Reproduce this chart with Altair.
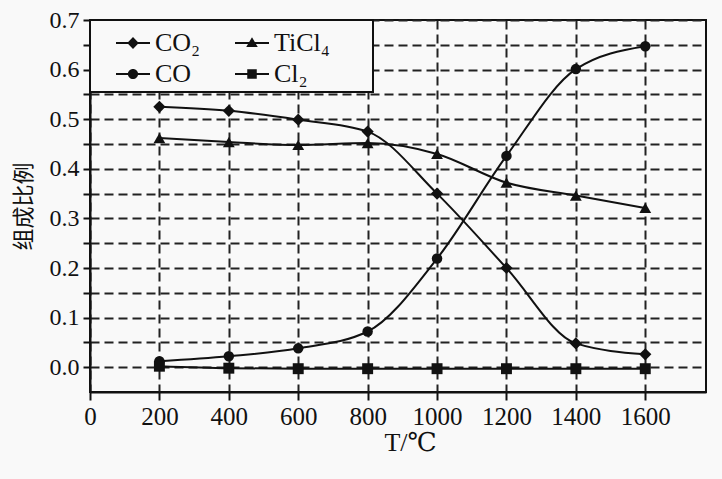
import altair as alt
import pandas as pd

# ---- data ----
temps = [200, 400, 600, 800, 1000, 1200, 1400, 1600]
co2 = [0.525, 0.517, 0.499, 0.475, 0.350, 0.200, 0.048, 0.026]
co = [0.012, 0.022, 0.038, 0.072, 0.219, 0.426, 0.601, 0.647]
ticl4 = [0.462, 0.454, 0.448, 0.452, 0.430, 0.372, 0.346, 0.321]
cl2 = [0.002, -0.002, -0.003, -0.003, -0.003, -0.003, -0.003, -0.003]

# legend fills column by column: CO₂, CO | TiCl₄, Cl₂
series_names = ["CO₂", "CO", "TiCl₄", "Cl₂"]
x_ticks = [0, 200, 400, 600, 800, 1000, 1200, 1400, 1600]
y_ticks = [0.0, 0.05, 0.1, 0.15, 0.2, 0.25, 0.3, 0.35, 0.4, 0.45, 0.5, 0.55, 0.6, 0.65, 0.7]

series_values = {"CO₂": co2, "CO": co, "TiCl₄": ticl4, "Cl₂": cl2}
rows = []
for name in series_names:
    for t, v in zip(temps, series_values[name]):
        rows.append({"T": t, "value": v, "series": name})
df = pd.DataFrame(rows)

# ---- styling ----
SERIF = "Liberation Serif, DejaVu Serif, serif"
CJK = "Noto Sans CJK SC"
INK = "#111111"
BG = "#f9f9f9"

marker_shapes = {"CO₂": "diamond", "CO": "circle", "TiCl₄": "triangle-up", "Cl₂": "square"}
marker_sizes = {"CO₂": 150, "CO": 110, "TiCl₄": 140, "Cl₂": 120}
BAR = "M-1,-0.06L1,-0.06L1,0.06L-1,0.06Z"
legend_shapes = [
    BAR + "M0,-0.36L0.34,0L0,0.36L-0.34,0Z",
    BAR + "M0.3,0A0.3,0.3,0,1,1,-0.3,0A0.3,0.3,0,1,1,0.3,0Z",
    BAR + "M0,-0.34L0.34,0.24L-0.34,0.24Z",
    BAR + "M-0.28,-0.28L0.28,-0.28L0.28,0.28L-0.28,0.28Z",
]

x_enc = alt.X(
    "T:Q",
    scale=alt.Scale(domain=[0, 1775], nice=False, zero=False),
    axis=alt.Axis(
        values=x_ticks, format="d", title="T/℃",
        labelFont=SERIF, labelFontSize=25, labelColor=INK, labelPadding=4,
        labelFlush=False,
        tickSize=8, tickWidth=2, tickColor=INK,
        domainColor=INK, domainWidth=2,
        grid=True, gridDash=[9, 5], gridWidth=2, gridColor="#222222",
        titleFont=SERIF, titleFontSize=26, titleFontWeight="normal",
        titleColor=INK, titleX=320, titleY=37,
    ),
)
y_enc = alt.Y(
    "value:Q",
    scale=alt.Scale(domain=[-0.05, 0.7], nice=False, zero=False),
    axis=alt.Axis(
        values=y_ticks, title="组成比例",
        labelExpr="(round(datum.value*100) % 10 == 0) ? format(datum.value, '.1f') : ''",
        labelFont=SERIF, labelFontSize=24, labelColor=INK, labelPadding=4,
        labelFlush=False,
        tickSize=7, tickWidth=2, tickColor=INK,
        domainColor=INK, domainWidth=2,
        grid=True, gridDash=[9, 5], gridWidth=2, gridColor="#222222",
        titleFont=CJK, titleFontSize=22, titleFontWeight="normal",
        titleColor=INK, titleX=-55, titleY=186,
    ),
)

base = alt.Chart(df)

lines = base.mark_line(interpolate="monotone", color=INK, strokeWidth=2).encode(
    x=x_enc, y=y_enc, detail="series:N"
)

point_layers = []
for name in series_names:
    point_layers.append(
        base.transform_filter(alt.datum.series == name)
        .mark_point(filled=True, shape=marker_shapes[name], size=marker_sizes[name],
                    color=INK, opacity=1)
        .encode(x=x_enc, y=y_enc)
    )

# an empty point layer that only carries the legend (line + marker symbols)
legend_layer = base.transform_filter("false").mark_point(
    filled=True, color=INK, opacity=1
).encode(
    x=x_enc, y=y_enc,
    shape=alt.Shape(
        "series:N",
        scale=alt.Scale(domain=series_names, range=legend_shapes),
        legend=alt.Legend(
            title=None, orient="none", legendX=0, legendY=0, columns=2,
            padding=5, symbolOffset=20, labelOffset=4,
            columnPadding=13, rowPadding=0,
            symbolSize=1156, symbolFillColor=INK, symbolOpacity=1,
            labelFont=SERIF, labelFontSize=26, labelColor=INK, labelLimit=300,
            labelExpr="(datum.label == 'TiCl₄' || datum.label == 'Cl₂') ? datum.label + '\u2800\u2800' : datum.label",
            fillColor=BG, strokeColor=INK,
        ),
    ),
)

chart = (
    alt.layer(lines, *point_layers, legend_layer)
    .properties(
        width=616, height=372,
        padding={"left": 90, "top": 20, "right": 16, "bottom": 87},
        autosize=alt.AutoSizeParams(type="none"),
        background=BG,
    )
    .configure_view(stroke=INK, strokeWidth=2, fill=BG)
    .configure_legend(strokeWidth=2)
)

chart.save("out.html", embed_options={"renderer": "svg", "actions": False})
